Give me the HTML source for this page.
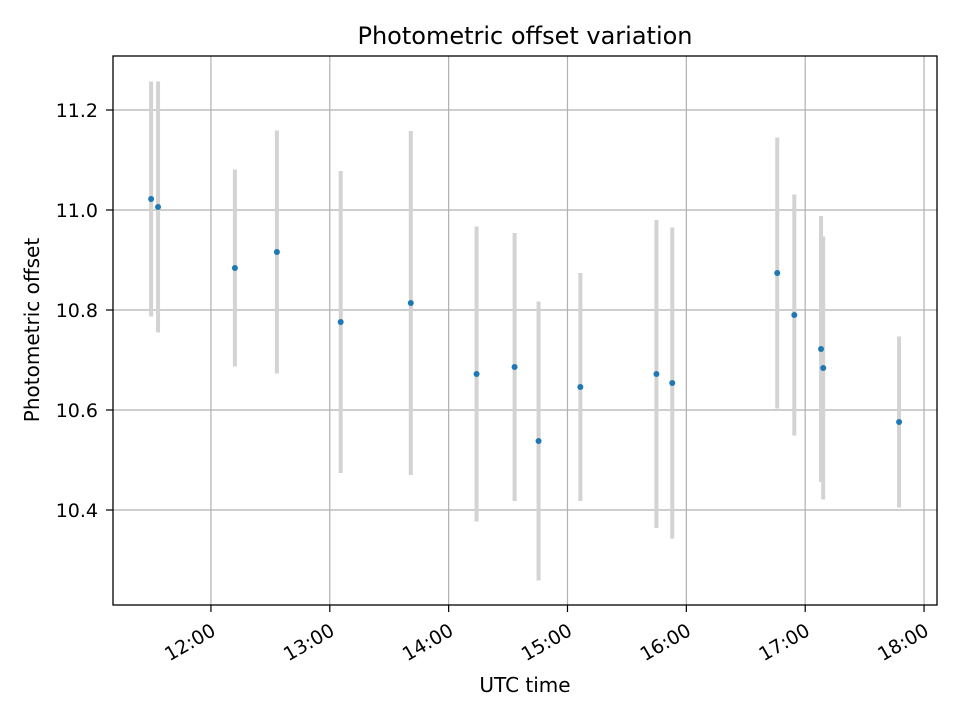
<!DOCTYPE html>
<html><head><meta charset="utf-8"><style>
body{margin:0;background:#fff;}
svg{display:block;font-family:"DejaVu Sans","Liberation Sans",sans-serif;}
</style></head><body>
<svg id="chart" width="960" height="720" viewBox="0 0 960 720">
<rect width="960" height="720" fill="#fff"/>
<text x="525" y="44" font-size="24" text-anchor="middle">Photometric offset variation</text>
<g id="grid"></g><g id="marks"></g><g id="axes"></g>
<rect x="113" y="56" width="824" height="549" fill="none" stroke="#000" stroke-width="1.3"/>
<text x="525" y="692" font-size="20" text-anchor="middle">UTC time</text>
<text transform="translate(39,330) rotate(-90)" font-size="20" text-anchor="middle">Photometric offset</text>
</svg>
<script>
const times=["11:29.8","11:33.3","12:12.1","12:33.3","13:05.5","13:40.9","14:14.1","14:33.3","14:45.4","15:06.5","15:44.9","15:52.9","16:45.9","16:54.5","17:08.0","17:09.1","17:47.4"];
const values=[11.022,11.006,10.884,10.916,10.776,10.814,10.672,10.686,10.538,10.646,10.672,10.654,10.874,10.790,10.722,10.684,10.576];
const errors=[0.235,0.251,0.197,0.243,0.302,0.344,0.295,0.268,0.279,0.228,0.308,0.311,0.271,0.241,0.266,0.263,0.171];
const yTicks=[10.4,10.6,10.8,11.0,11.2];
const xTickLabels=["12:00","13:00","14:00","15:00","16:00","17:00","18:00"];
const L=113,R=937,T=56,B=605;
const xMin=11.176,xMax=18.109,yMin=10.21,yMax=11.308;
const xs=h=>L+(h-xMin)/(xMax-xMin)*(R-L);
const ys=v=>B-(v-yMin)/(yMax-yMin)*(B-T);
const toH=s=>{const p=s.split(':');return +p[0]+(+p[1])/60;};
const NS="http://www.w3.org/2000/svg";
function mk(tag,attrs,parent){const e=document.createElementNS(NS,tag);for(const k in attrs)e.setAttribute(k,attrs[k]);parent.appendChild(e);return e;}
const grid=document.getElementById('grid'),marks=document.getElementById('marks'),axes=document.getElementById('axes');
yTicks.forEach(v=>{const y=ys(v);
 const g=mk('line',{x1:L,x2:R,y1:y,y2:y,stroke:'#b0b0b0','stroke-width':1.2},grid);
 
 
 const t=mk('line',{x1:L-7,x2:L,y1:y,y2:y,stroke:'#000','stroke-width':1.2},axes);
 
 
 const l=mk('text',{x:L-15,y:y+7,'font-size':19,'text-anchor':'end'},axes);l.textContent=v.toFixed(1);
 
 
});
xTickLabels.forEach(s=>{const x=xs(toH(s));
 const g=mk('line',{x1:x,x2:x,y1:T,y2:B,stroke:'#b0b0b0','stroke-width':1.2},grid);
 
 
 const t=mk('line',{x1:x,x2:x,y1:B,y2:B+7,stroke:'#000','stroke-width':1.2},axes);
 
 
 const l=mk('text',{transform:`translate(${x-1},${B+17}) rotate(-30)`,'font-size':19,'text-anchor':'end',dy:'0.74em'},axes);l.textContent=s;
 
 
});
times.forEach((s,i)=>{const x=xs(toH(s));
 const e=mk('line',{x1:x,x2:x,y1:ys(values[i]+errors[i]),y2:ys(values[i]-errors[i]),stroke:'#d3d3d3','stroke-width':4},marks);
 
 
});
times.forEach((s,i)=>{const x=xs(toH(s));
 const c=mk('circle',{cx:x,cy:ys(values[i]),r:3,fill:'#1f77b4'},marks);
 
 
});
</script>
</body></html>
